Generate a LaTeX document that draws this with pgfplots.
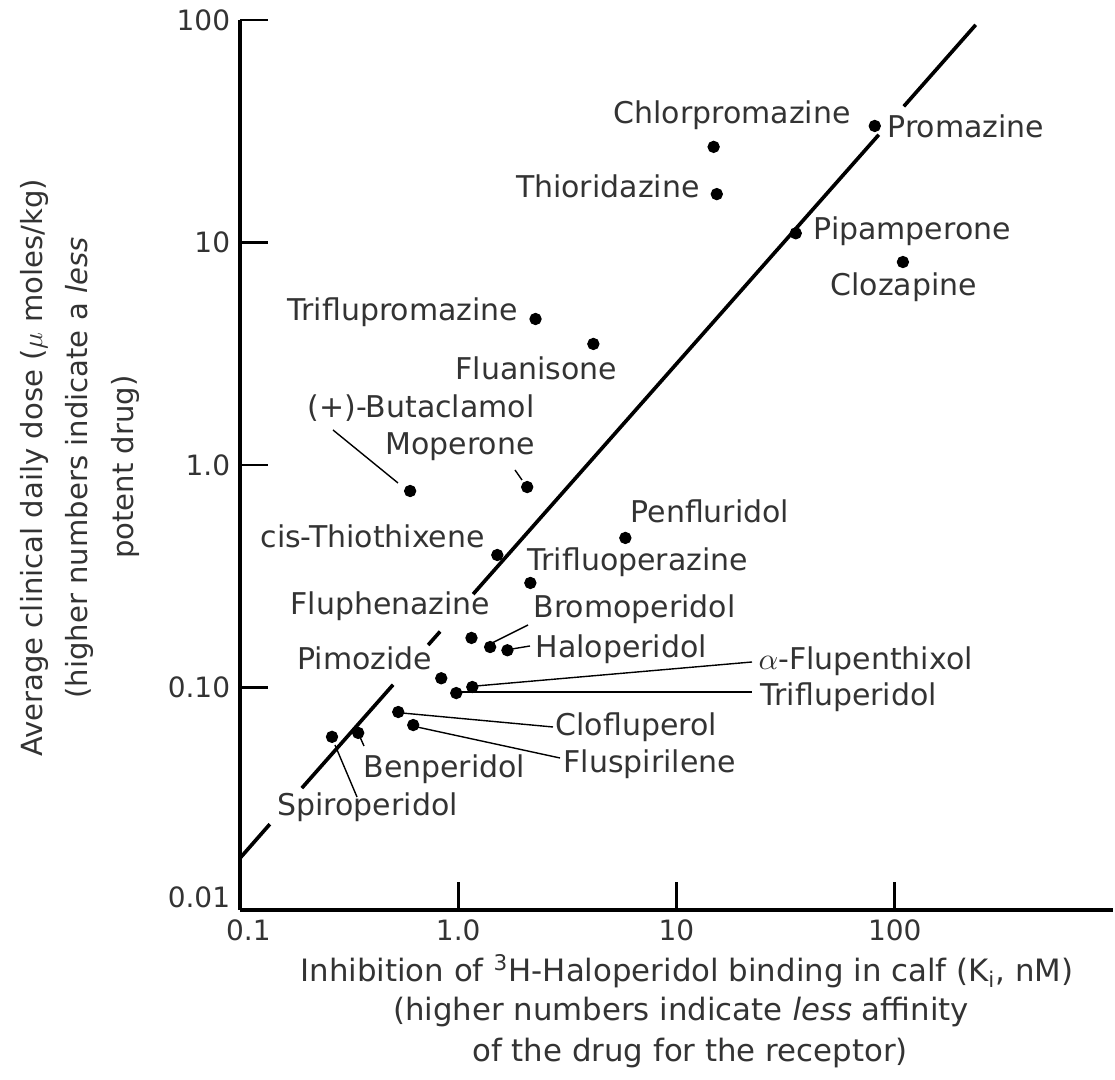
\documentclass[border=0pt]{standalone}
\usepackage{fontspec}
\setmainfont{DejaVu Sans}
\usepackage{pgfplots}
\pgfplotsset{compat=1.18}
\begin{document}
\begin{tikzpicture}
\useasboundingbox (-85.714pt,-60.714pt) rectangle (312.5pt,325pt);
\begin{axis}[
  at={(0,0)}, anchor=south west, scale only axis,
  width=311.79pt, height=317.86pt,
  xmode=log, ymode=log,
  xmin=0.1, xmax=1000, ymin=0.01, ymax=100,
  axis x line*=bottom, axis y line*=left,
  axis line style={line width=1.1pt},
  xtick={0.1,1,10,100}, xticklabels={\hspace{6pt}0.1,1.0,10,100},
  ytick={0.01,0.1,1,10,100}, yticklabels={\smash{\raisebox{1pt}{0.01}},0.10,1.0,10,100},
  xminorticks=false, yminorticks=false,
  tick align=inside, major tick length=10pt,
  tick style={line width=1pt, black},
  ticklabel style={font=\fontsize{10}{12}\selectfont, text=black!80},
  clip=false,
]
% regression line (broken around labels)
\addplot[black, line width=1.3pt] coordinates {(0.1,0.0171) (0.137,0.0243)};
\addplot[black, line width=1.3pt] coordinates {(0.192,0.0353) (0.503,0.1029)};
\addplot[black, line width=1.3pt] coordinates {(0.728,0.1552) (0.826,0.1785)};
\addplot[black, line width=1.3pt] coordinates {(1.17,0.2628) (84.5,30.5)};
\addplot[black, line width=1.3pt] coordinates {(110,40.9) (235,95.1)};
% drugs
\addplot[only marks, mark=*, mark size=2pt, black] coordinates {
 (14.8,26.9) (81,33.4) (15.3,16.5) (35.2,11.0) (109,8.17)
 (2.26,4.53) (4.16,3.50) (0.602,0.764) (2.07,0.796) (1.51,0.394)
 (5.83,0.470) (2.14,0.295) (1.15,0.167) (1.40,0.152) (1.68,0.147)
 (0.836,0.110) (0.979,0.0944) (1.16,0.1005) (0.531,0.0776) (0.622,0.0678)
 (0.348,0.0625) (0.264,0.060)
};
\end{axis}
\begin{scope}[x=0.357143pt, y=-0.357143pt, shift={(-85.714pt,325pt)},
  lab/.style={anchor=mid west, inner sep=0pt, text=black!80, font=\fontsize{10.7}{12}\selectfont},
  lead/.style={line width=0.5pt, black}]
\node[lab] at (613,116) {Chlorpromazine};
\node[lab] at (887,130) {Promazine};
\node[lab, anchor=mid east] at (700,190) {Thioridazine};
\node[lab] at (813,232) {Pipamperone};
\node[lab] at (830,288) {Clozapine};
\node[lab] at (287,313) {Triflupromazine};
\node[lab] at (455,372) {Fluanisone};
\node[lab] at (307,410) {(+)-Butaclamol};
\node[lab] at (385,447) {Moperone};
\node[lab] at (260,540) {cis-Thiothixene};
\node[lab] at (527,563) {Trifluoperazine};
\node[lab] at (630,515) {Penfluridol};
\node[lab] at (290,607) {Fluphenazine};
\node[lab] at (533,610) {Bromoperidol};
\node[lab] at (535,650) {Haloperidol};
\node[lab] at (297,662) {Pimozide};
\node[lab] at (758,662) {$\alpha$-Flupenthixol};
\node[lab] at (760,698) {Trifluperidol};
\node[lab] at (555,728) {Clofluperol};
\node[lab] at (563,765) {Fluspirilene};
\node[lab] at (363,770) {Benperidol};
\node[lab] at (277,808) {Spiroperidol};
% leader lines
\draw[lead] (333,430) -- (398,483);
\draw[lead] (515,470) -- (522,480);
\draw[lead] (492,643) -- (528,625);
\draw[lead] (512,649) -- (530,646);
\draw[lead] (476,686) -- (752,662);
\draw[lead] (460,692) -- (752,692);
\draw[lead] (402,713) -- (553,727);
\draw[lead] (417,727) -- (560,758);
\draw[lead] (335,745) -- (357,797);
\draw[lead] (360,737) -- (364,746);
% axis titles
\begin{scope}[every node/.style={inner sep=0pt, text=black!80, font=\fontsize{11}{13}\selectfont}]
\node at (687,971) {Inhibition of \textsuperscript{3}H-Haloperidol binding in calf (K\textsubscript{i}, nM)};
\node at (681,1012) {(higher numbers indicate \textit{less} affinity};
\node at (690,1053) {of the drug for the receptor)};
\end{scope}
\begin{scope}[every node/.style={inner sep=0pt, text=black!80, font=\fontsize{10.4}{12}\selectfont, rotate=90}]
\node at (34,468) {Average clinical daily dose ($\mu$ moles/kg)};
\node at (79,468) {(higher numbers indicate a \textit{less}};
\node at (125,467) {potent drug)};
\end{scope}
\end{scope}
\end{tikzpicture}
\end{document}
